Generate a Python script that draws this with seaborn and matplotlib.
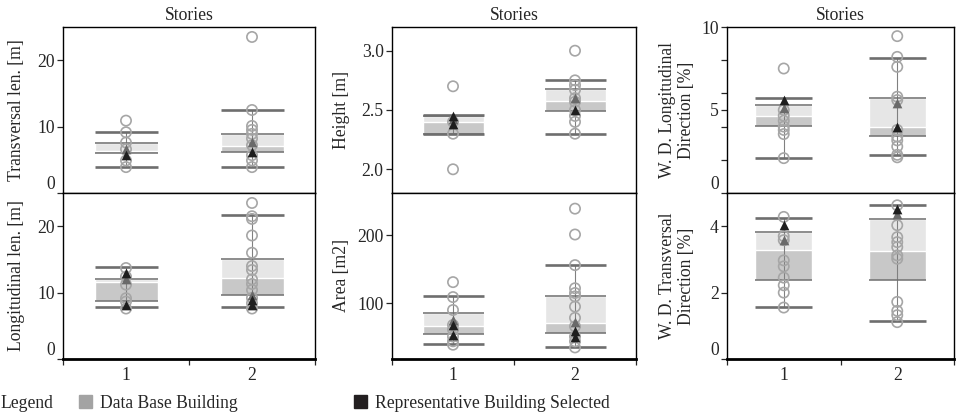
import pandas as pd
import matplotlib.pyplot as plt
import seaborn as sns
from matplotlib.patches import Patch

stories = ["1", "2"]

# box values per story: whisker low, Q1, median, Q3, whisker high
trans_pts = [[10.9, 9.15, 7.6, 6.6, 4.9, 3.9],
             [23.5, 12.5, 10.1, 9.5, 8.9, 8.2, 7.2, 5.7, 4.9, 3.9]]
trans_box = [[3.9, 6.05, 6.4, 7.55, 9.15], [3.9, 6.15, 7.05, 8.9, 12.5]]
trans_mean = [6.6, 7.65]
trans_sel = [[5.65], [6.15]]

height_pts = [[2.7, 2.4, 2.3, 2.0],
              [3.0, 2.75, 2.71, 2.67, 2.6, 2.57, 2.5, 2.45, 2.4, 2.3]]
height_box = [[2.3, 2.3, 2.4, 2.45, 2.455], [2.3, 2.49, 2.575, 2.68, 2.75]]
height_mean = [2.42, 2.6]
height_sel = [[2.38, 2.45], [2.5]]

wdlong_pts = [[7.5, 5.0, 4.65, 4.35, 4.0, 3.8, 3.55, 2.1],
              [9.45, 8.2, 7.6, 5.8, 5.6, 3.8, 3.4, 3.17, 2.8, 2.3, 2.15]]
wdlong_box = [[2.1, 4.02, 4.64, 5.32, 5.72], [2.31, 3.41, 3.98, 5.74, 8.13]]
wdlong_mean = [5.12, 5.42]
wdlong_sel = [[5.58], [3.95]]

long_pts = [[13.7, 12.4, 11.2, 9.15, 8.65, 7.6],
            [23.5, 21.5, 21.1, 18.6, 16.0, 14.0, 13.4, 12.0, 11.3, 10.4, 9.2, 8.4, 7.6]]
long_box = [[7.9, 8.75, 11.6, 12.1, 13.8], [7.9, 9.6, 12.2, 15.05, 21.7]]
long_mean = [12.0, 9.65]
long_sel = [[12.9, 8.1], [8.9, 8.1]]

area_pts = [[131, 109, 90, 68, 61, 51, 44, 39],
            [239, 201, 156, 122, 115, 110, 95, 78.5, 66, 51, 44, 35]]
area_box = [[40, 54.6, 65.8, 85.4, 110], [35, 56, 70.7, 111, 156]]
area_mean = [75.5, 73]
area_sel = [[53, 68], [51, 59]]

wdtrans_pts = [[4.28, 3.7, 3.58, 2.97, 2.79, 2.45, 2.22, 2.0, 1.55],
               [4.63, 4.03, 3.67, 3.52, 3.37, 3.12, 3.02, 1.72, 1.45, 1.32, 1.11]]
wdtrans_box = [[1.57, 2.37, 3.27, 3.83, 4.25], [1.14, 2.39, 3.24, 4.22, 4.63]]
wdtrans_mean = [3.58, 4.38]
wdtrans_sel = [[4.03], [4.53]]

sns.set_style("ticks")
plt.rcParams["font.family"] = ["Liberation Serif", "DejaVu Serif"]
plt.rcParams["font.size"] = 12.7

LIGHT = "#e6e6e6"
DARK = "#c8c8c8"
LINE = "#6e6e6e"
W = 0.5


def long_df(groups):
    rows = [(s, v) for s, vals in zip(stories, groups) for v in vals]
    return pd.DataFrame(rows, columns=["story", "value"])


def draw(ax, pts, box, mean, sel):
    for i, (lo, q1, med, q3, hi) in enumerate(box):
        ax.bar(i, q3 - q1, bottom=q1, width=W, color=LIGHT, zorder=1)
        ax.bar(i, med - q1, bottom=q1, width=W, color=DARK, zorder=1)
        ax.vlines(i, lo, hi, color="#808080", lw=0.8, zorder=1.5)
        ax.hlines([q1, q3], i - W / 2, i + W / 2, color=LINE, lw=1.1, zorder=2)
        ax.hlines([lo, hi], i - W / 2, i + W / 2, color=LINE, lw=1.9, zorder=2)

    n = len(ax.collections)
    sns.stripplot(data=long_df(pts), x="story", y="value", order=stories,
                  jitter=False, size=7.4, color="#a6a6a6", ax=ax, zorder=3)
    for c in ax.collections[n:]:
        c.set_facecolor("none")
        c.set_edgecolor("#a6a6a6")
        c.set_linewidth(1.2)
    sns.stripplot(data=long_df([[m] for m in mean]), x="story", y="value", order=stories,
                  jitter=False, size=7, marker="^", color="#6a6a6a", ax=ax, zorder=4)
    sns.stripplot(data=long_df(sel), x="story", y="value", order=stories,
                  jitter=False, size=7, marker="^", color="#1e1e1e", ax=ax, zorder=5)
    ax.set_xlim(-0.5, 1.5)
    ax.set_xlabel("")
    for s in ax.spines.values():
        s.set_visible(True)
        s.set_color("black")
        s.set_linewidth(1.0)


fig = plt.figure(figsize=(9.56, 4.18), dpi=100)
lefts = [63 / 956, 392 / 956, 727 / 956]
widths = [252 / 956, 244 / 956, 227 / 956]
top_b, bot_b, h = 1 - 193 / 418, 1 - 359 / 418, 166 / 418

panels = [
    (0, 0, "Transversal len. [m]", trans_pts, trans_box, trans_mean, trans_sel, (0, 25), [0, 10, 20], []),
    (1, 0, "Height [m]", height_pts, height_box, height_mean, height_sel, (1.8, 3.2), [2.0, 2.5, 3.0], []),
    (2, 0, "W. D. Longitudinal\nDirection [%]", wdlong_pts, wdlong_box, wdlong_mean, wdlong_sel, (0, 10), [0, 5, 10], [2, 4, 6, 8]),
    (0, 1, "Longitudinal len. [m]", long_pts, long_box, long_mean, long_sel, (0, 25), [0, 10, 20], []),
    (1, 1, "Area [m2]", area_pts, area_box, area_mean, area_sel, (18, 262), [100, 200], []),
    (2, 1, "W. D. Transversal\nDirection [%]", wdtrans_pts, wdtrans_box, wdtrans_mean, wdtrans_sel, (0, 5), [0, 2, 4], []),
]
label_x = [-0.15, -0.172, -0.14]

for col, row, label, pts, box, mean, sel, ylim, ylabs, extra in panels:
    ax = fig.add_axes([lefts[col], top_b if row == 0 else bot_b, widths[col], h])
    draw(ax, pts, box, mean, sel)
    ax.set_ylim(*ylim)
    fmt = "{:.1f}" if col == 1 and row == 0 else "{:g}"
    ax.yaxis.remove_overlapping_locs = False
    ticks = sorted(set(ylabs) | set(extra))
    ax.set_yticks(ticks)
    ax.set_yticklabels([fmt.format(v) if v in ylabs and v not in (ylabs[1:-1] if extra else []) else ""
                        for v in ticks])
    if extra:
        mids = [v for v in ylabs[1:-1]]
        ax.set_yticks(mids, minor=True)
        ax.set_yticklabels([fmt.format(v) for v in mids], minor=True)
        ax.tick_params(axis="y", which="minor", length=0, pad=6)
    for t in ax.get_yticklabels():
        if t.get_text() == fmt.format(ylim[0]):
            t.set_verticalalignment("bottom")
    ax.tick_params(axis="y", which="major", length=4, width=0.9, pad=2, direction="out")
    ax.set_ylabel(label, ha="center", multialignment="center")
    ax.yaxis.set_label_coords(label_x[col], 0.5)
    if row == 0:
        ax.set_title("Stories", fontsize=12.7, pad=5)
        ax.set_xticks([])
    else:
        ax.spines["bottom"].set_linewidth(2.0)
        ax.set_xticks([-0.5, 0.5, 1.5])
        ax.set_xticklabels([])
        ax.set_xticks([0, 1], minor=True)
        ax.set_xticklabels(stories, minor=True)
        ax.tick_params(axis="x", which="major", length=4, width=0.9, direction="out")
        ax.tick_params(axis="x", which="minor", length=0, pad=6)

fig.text(0.0, 1 - 403 / 418, "Legend", va="center", ha="left")
fig.legend(handles=[Patch(color="#a3a3a3", label="Data Base Building")],
           loc="center left", bbox_to_anchor=(72 / 956, 1 - 403 / 418), frameon=False,
           handlelength=0.75, handleheight=0.75, handletextpad=0.45, borderaxespad=0)
fig.legend(handles=[Patch(color="#231f20", label="Representative Building Selected")],
           loc="center left", bbox_to_anchor=(347 / 956, 1 - 403 / 418), frameon=False,
           handlelength=0.75, handleheight=0.75, handletextpad=0.45, borderaxespad=0)

fig.savefig("out.png", dpi=100)
